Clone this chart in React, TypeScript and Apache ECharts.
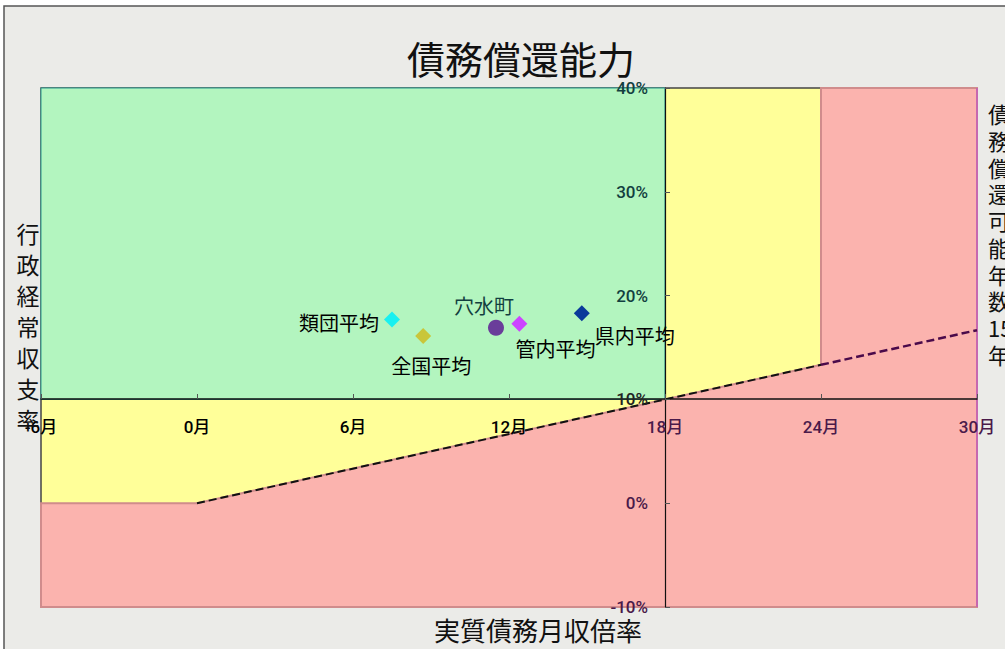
import React, { useEffect, useRef } from "react";
import * as echarts from "echarts";

// ---- data ----
const xMin = -6;
const xMax = 30;
const xStep = 6;
const yMin = -10;
const yMax = 40;
const yStep = 10;

const pointNames = ["類団平均", "全国平均", "穴水町", "管内平均", "県内平均"];
const pointX = [7.5, 8.7, 11.5, 12.4, 14.8];
const pointY = [17.7, 16.1, 16.9, 17.3, 18.3];

const yellowZone = [[-6, -10], [30, -10], [30, 40], [-6, 40]];
const greenZone = [[-6, 10], [18, 10], [18, 40], [-6, 40]];
const pinkZone = [[-6, -10], [-6, 0], [0, 0], [24, 13.33], [24, 40], [30, 40], [30, -10]];
const limitLineA = [[0, 0], [24, 13.33]];
const limitLineB = [[24, 13.33], [30, 16.67]];
const rightEdge = [[30, -10], [30, 40]];

// ---- styles ----
const pointStyles: Record<string, any> = {
  類団平均: { color: "#19f0f0", symbol: "diamond", size: 16, offset: [-53, 3], labelColor: "#000" },
  全国平均: { color: "#c9c63a", symbol: "diamond", size: 16, offset: [8, 29], labelColor: "#000" },
  穴水町: { color: "#6a3d9a", symbol: "circle", size: 16, offset: [-12, -22], labelColor: "#123f40" },
  管内平均: { color: "#cc44ff", symbol: "diamond", size: 16, offset: [36, 25], labelColor: "#000" },
  県内平均: { color: "#0a3a9a", symbol: "diamond", size: 16, offset: [53, 22], labelColor: "#000" },
};

const CJK = "'Noto Sans CJK JP', 'Noto Sans', sans-serif";
const NUM = "Roboto, 'Noto Sans CJK JP', sans-serif";

function zoneSeries(points: number[][], fill: string, stroke: string, lineWidth: number, z: number) {
  return {
    type: "custom",
    silent: true,
    z,
    data: [[points[0][0], points[0][1]]],
    renderItem: (_params: any, api: any) => ({
      type: "polygon",
      shape: { points: points.map((p) => api.coord(p)) },
      style: { fill, stroke, lineWidth },
    }),
  };
}

export default function App() {
  const ref = useRef<HTMLDivElement>(null);
  useEffect(() => {
    if (!ref.current) return;
    const chart = echarts.init(ref.current, undefined, { renderer: "svg" });
    const option: any = {
      animation: false,
      backgroundColor: "#ffffff",
      grid: { left: 41, right: 28, top: 88, bottom: 42, containLabel: false },
      xAxis: {
        type: "value",
        min: xMin,
        max: xMax,
        interval: xStep,
        position: "bottom",
        offset: -208,
        z: 10,
        splitLine: { show: false },
        axisLine: { show: true, lineStyle: { color: "#111", width: 1.5 } },
        axisTick: { show: true, inside: true, length: 5, lineStyle: { color: "#555" } },
        axisLabel: {
          margin: 19,
          fontSize: 17,
          fontWeight: 500,
          fontFamily: NUM,
          formatter: (v: number) => v + "月",
          color: (v: any) => (Number(v) >= 18 ? "#4a1a4a" : "#000"),
        },
      },
      yAxis: {
        type: "value",
        min: yMin,
        max: yMax,
        interval: yStep,
        position: "left",
        offset: -624,
        z: 10,
        splitLine: { show: false },
        axisLine: { show: true, lineStyle: { color: "#111", width: 1.2 } },
        axisTick: { show: true, inside: true, length: 5, lineStyle: { color: "#555" } },
        axisLabel: {
          margin: 17,
          fontSize: 17,
          fontWeight: 500,
          fontFamily: NUM,
          formatter: (v: number) => v + "%",
          color: (v: any) => {
            const n = Number(v);
            if (n >= 20) return "#123f40";
            if (n === 10) return "#222";
            return "#4a1a4a";
          },
        },
      },
      graphic: [
        {
          type: "rect",
          z: -10,
          shape: { x: 4, y: 6, width: 1010, height: 660 },
          style: { fill: "#ebebe8", stroke: "#555", lineWidth: 1.5 },
        },
        {
          type: "text",
          x: 521,
          y: 57,
          z: 100,
          style: {
            text: "債務償還能力",
            fontSize: 38,
            fontFamily: CJK,
            fill: "#111",
            align: "center",
            verticalAlign: "middle",
          },
        },
        {
          type: "text",
          x: 28,
          y: 217,
          z: 100,
          style: {
            text: "行\n政\n経\n常\n収\n支\n率",
            fontSize: 23,
            lineHeight: 31,
            fontFamily: CJK,
            fill: "#111",
            align: "center",
            verticalAlign: "top",
          },
        },
        {
          type: "text",
          x: 988,
          y: 100,
          z: 100,
          style: {
            text: "債\n務\n償\n還\n可\n能\n年\n数\n15\n年",
            fontSize: 22,
            lineHeight: 26.7,
            fontFamily: CJK,
            fill: "#111",
            align: "left",
            verticalAlign: "top",
          },
        },
        {
          type: "text",
          x: 538,
          y: 629,
          z: 100,
          style: {
            text: "実質債務月収倍率",
            fontSize: 26,
            fontFamily: CJK,
            fill: "#111",
            align: "center",
            verticalAlign: "middle",
          },
        },
      ],
      series: [
        zoneSeries(yellowZone, "#ffff99", "#444", 1.5, 1),
        zoneSeries(greenZone, "#b3f5bf", "#2a9a90", 1, 2),
        zoneSeries(pinkZone, "#fbb3ae", "#d08c8c", 2, 3),
        {
          type: "line",
          z: 5,
          silent: true,
          symbol: "none",
          data: rightEdge,
          lineStyle: { color: "#c050c8", width: 1.2 },
        },
        {
          type: "line",
          z: 6,
          silent: true,
          symbol: "none",
          data: limitLineA,
          lineStyle: { color: "#111", width: 2, type: [8, 4] },
        },
        {
          type: "line",
          z: 6,
          silent: true,
          symbol: "none",
          data: limitLineB,
          lineStyle: { color: "#4a0a4a", width: 2.5, type: [8, 4] },
        },
        {
          type: "scatter",
          z: 20,
          itemStyle: { opacity: 1 },
          data: pointNames.map((name, i) => {
            const s = pointStyles[name];
            return {
              name,
              value: [pointX[i], pointY[i]],
              symbol: s.symbol,
              symbolSize: s.size,
              itemStyle: { color: s.color, opacity: 1 },
              label: {
                show: true,
                position: "inside",
                offset: s.offset,
                formatter: name,
                fontSize: 20,
                fontWeight: "normal",
                fontFamily: CJK,
                color: s.labelColor,
                opacity: 1,
              },
            };
          }),
        },
      ],
    };
    chart.setOption(option);
    return () => chart.dispose();
  }, []);
  return (
    <div
      ref={ref}
      style={{ position: "absolute", left: 0, top: 0, width: 1005, height: 649 }}
    />
  );
}
